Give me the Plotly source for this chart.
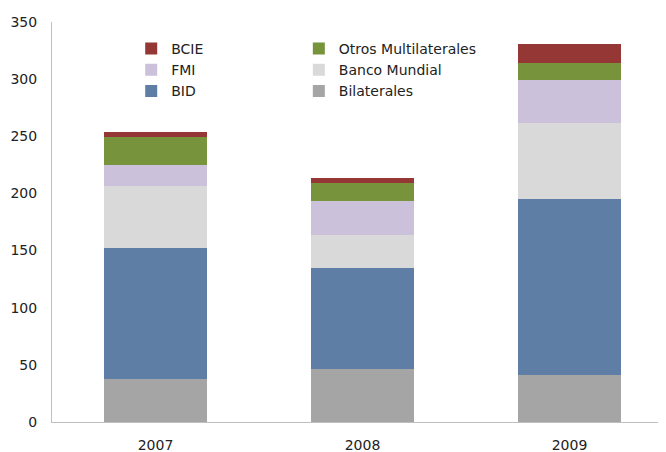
import plotly.graph_objects as go

years = ["2007", "2008", "2009"]
bilaterales = [38, 46.5, 41]
bid = [114, 88.5, 154]
banco_mundial = [54.5, 28.5, 66.5]
fmi = [18, 29.5, 38]
otros = [24.5, 16, 14.5]
bcie = [4.5, 4.3, 16.5]

series = [
    ("Bilaterales", bilaterales, "#A5A5A5", "legend2"),
    ("BID", bid, "#5F7EA6", "legend"),
    ("Banco Mundial", banco_mundial, "#D9D9D9", "legend2"),
    ("FMI", fmi, "#CCC1DA", "legend"),
    ("Otros Multilaterales", otros, "#77933C", "legend2"),
    ("BCIE", bcie, "#953735", "legend"),
]

fig = go.Figure()
for name, vals, color, leg in series:
    fig.add_trace(go.Bar(x=years, y=vals, name=name, marker_color=color,
                         marker_line_width=0, width=0.5, legend=leg))

font = dict(family="DejaVu Sans", size=14, color="#222222")
# page has an 8px body margin, so the figure is sized/offset to compensate
fig.update_layout(
    width=658, height=444,
    margin=dict(l=44, r=0, t=14, b=30),
    barmode="stack",
    plot_bgcolor="white", paper_bgcolor="white",
    font=font,
    legend=dict(x=0.129, y=0.9725, xanchor="left", yanchor="top",
                traceorder="reversed", bgcolor="rgba(0,0,0,0)", font=font,
                itemwidth=30, tracegroupgap=0),
    legend2=dict(x=0.402, y=0.9725, xanchor="left", yanchor="top",
                 traceorder="reversed", bgcolor="rgba(0,0,0,0)", font=font,
                 itemwidth=30, tracegroupgap=0),
    xaxis=dict(range=[-0.5, 2.466], showline=True, linecolor="#BFBFBF",
               linewidth=1, ticks="outside", ticklen=10, tickcolor="white",
               showgrid=False, tickfont=font, automargin=False),
    yaxis=dict(range=[0, 350], dtick=50, showline=True, linecolor="#BFBFBF",
               linewidth=1, ticks="outside", ticklen=11, tickcolor="white",
               showgrid=False, zeroline=False, tickfont=font, automargin=False),
)

fig.write_html("out.html")
